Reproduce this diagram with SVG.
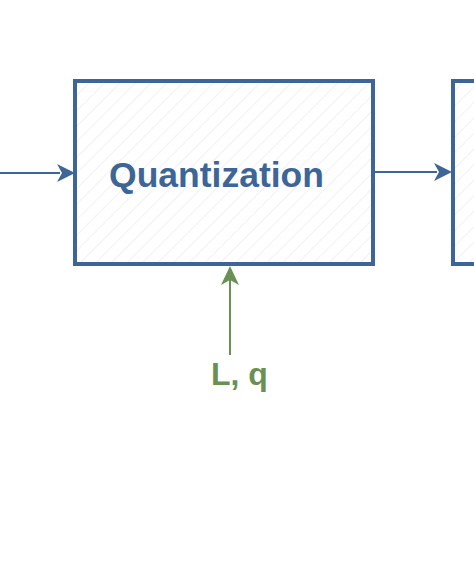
<svg xmlns="http://www.w3.org/2000/svg" width="474" height="564" viewBox="0 0 474 564">
<style>
.box{fill:url(#hatch);stroke:#3d6596;stroke-width:4}
.conn{stroke:#3d6596;stroke-width:2;fill:none}
.ctrl{stroke:#6a9153;stroke-width:2;fill:none}
.lbl{font-family:"Liberation Sans",Arial,sans-serif;font-weight:bold}
</style>
<defs>
<pattern id="hatch" patternUnits="userSpaceOnUse" width="11" height="11" patternTransform="rotate(45)">
<rect width="11" height="11" fill="#ffffff"/>
<line x1="0" y1="0" x2="0" y2="11" stroke="#e8e8e8" stroke-width="1.2"/>
</pattern>
</defs>
<rect width="474" height="564" fill="#ffffff"/>
<g id="connectors">
<path class="conn" d="M0,173 L60,173"/>
<path d="M57,164 L75,173 L57,182 L62,173 Z" fill="#3d6596"/>
<path class="conn" d="M375,172 L437,172"/>
<path d="M434,163 L452,172 L434,181 L439,172 Z" fill="#3d6596"/>
<path class="ctrl" d="M230,355 L230,280"/>
<path d="M221,285 L230,266 L239,285 L230,280 Z" fill="#6a9153"/>
</g>
<g id="quantization">
<rect class="box" x="75" y="81" width="298" height="183"/>
<text class="lbl" x="216.5" y="187" font-size="35.5" fill="#3d6596" text-anchor="middle">Quantization</text>
</g>
<g id="next-block">
<rect class="box" x="453" y="81" width="40" height="183"/>
</g>
<g id="control-label">
<text class="lbl" x="211" y="385" font-size="32" fill="#6a9153">L, q</text>
</g>
</svg>
